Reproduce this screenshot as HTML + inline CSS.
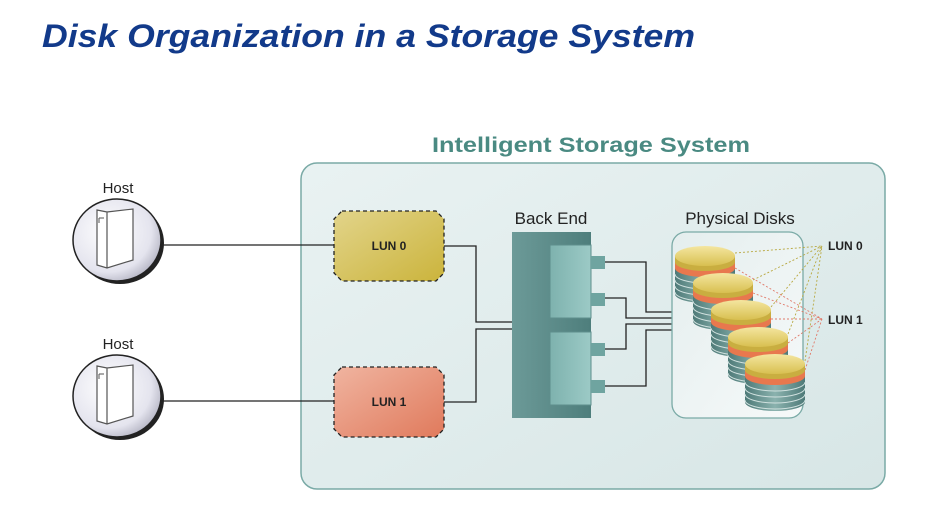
<!DOCTYPE html>
<html><head><meta charset="utf-8"><style>
html,body{margin:0;padding:0;background:#fff;}
svg{display:block;}
text{font-family:"Liberation Sans",Arial,sans-serif;}
</style></head><body>
<svg width="939" height="510" viewBox="0 0 939 510" xmlns="http://www.w3.org/2000/svg">
<defs>
<linearGradient id="bg" x1="0" y1="0" x2="1" y2="1"><stop offset="0" stop-color="#e9f2f2"/><stop offset="1" stop-color="#d7e6e6"/></linearGradient>
<linearGradient id="l0" x1="0" y1="0" x2="1" y2="1"><stop offset="0" stop-color="#e2d48a"/><stop offset="1" stop-color="#cbb43c"/></linearGradient>
<linearGradient id="l1" x1="0" y1="0" x2="1" y2="1"><stop offset="0" stop-color="#f0b4a0"/><stop offset="1" stop-color="#e07a5c"/></linearGradient>
<radialGradient id="host" cx="0.4" cy="0.4" r="0.7"><stop offset="0" stop-color="#ffffff"/><stop offset="0.7" stop-color="#e4e4ee"/><stop offset="1" stop-color="#a8a8b8"/></radialGradient>
<linearGradient id="be" x1="0" y1="0" x2="1" y2="0"><stop offset="0" stop-color="#6c9a98"/><stop offset="1" stop-color="#4e7e7c"/></linearGradient>
<linearGradient id="bei" x1="0" y1="0" x2="1" y2="0"><stop offset="0" stop-color="#7eb2ae"/><stop offset="1" stop-color="#9ccac6"/></linearGradient>
<linearGradient id="pd" x1="0" y1="0" x2="1" y2="1"><stop offset="0" stop-color="#e4eeee"/><stop offset="1" stop-color="#f6f9f9"/></linearGradient>
<linearGradient id="dtop" x1="0" y1="0" x2="0" y2="1"><stop offset="0" stop-color="#f4e6a0"/><stop offset="1" stop-color="#d8bf50"/></linearGradient>
<linearGradient id="dbody" x1="0" y1="0" x2="1" y2="0"><stop offset="0" stop-color="#4e7a78"/><stop offset="0.5" stop-color="#8ab2ae"/><stop offset="1" stop-color="#4e7a78"/></linearGradient>
<g id="disk">
<path d="M-30 0 V38 A30 9 0 0 0 30 38 V0 Z" fill="url(#dbody)"/>
<path d="M-30 18 A30 9 0 0 0 30 18 M-30 24 A30 9 0 0 0 30 24 M-30 30 A30 9 0 0 0 30 30 M-30 36 A30 9 0 0 0 30 36" fill="none" stroke="#cfe0de" stroke-width="1"/>
<path d="M-30 4 V12 A30 9 0 0 0 30 12 V4 Z" fill="#e8784e"/>
<path d="M-30 0 V6 A30 9 0 0 0 30 6 V0 Z" fill="#c9ae40"/>
<ellipse cx="0" cy="0" rx="30" ry="10" fill="url(#dtop)"/>
</g>
<g id="hostg">
<ellipse cx="3" cy="3" rx="44" ry="41" fill="#222"/>
<ellipse cx="0" cy="0" rx="44" ry="41" fill="url(#host)" stroke="#222" stroke-width="1.5"/>
<path d="M-20 -30 L-10 -28 L16 -31 L16 20 L-10 28 L-20 25 Z M-10 -28 L-10 28" fill="#fff" stroke="#555" stroke-width="1.2"/>
<path d="M-18 -22 h5 M-18 -22 v5" stroke="#555" stroke-width="1"/>
</g>
</defs>

<text x="42" y="47" font-size="32" font-weight="bold" font-style="italic" fill="#123a8a" textLength="653" lengthAdjust="spacingAndGlyphs">Disk Organization in a Storage System</text>

<text x="432" y="152" font-size="21" font-weight="bold" fill="#4a8a82" textLength="318" lengthAdjust="spacingAndGlyphs">Intelligent Storage System</text>
<rect x="301" y="163" width="584" height="326" rx="16" fill="url(#bg)" stroke="#7aaaa6" stroke-width="1.5"/>

<text x="118" y="193" font-size="15" fill="#222" text-anchor="middle">Host</text>
<text x="118" y="349" font-size="15" fill="#222" text-anchor="middle">Host</text>
<use href="#hostg" x="117" y="240"/>
<use href="#hostg" x="117" y="396"/>

<g stroke="#222" stroke-width="1.3" fill="none">
<path d="M161 245 H334"/>
<path d="M161 401 H334"/>
<path d="M444 246 H476 V322 H512"/>
<path d="M444 402 H476 V329 H512"/>
<path d="M605 262 H646 V312 H672"/>
<path d="M605 298 H626 V318 H672"/>
<path d="M605 349 H626 V324 H672"/>
<path d="M605 386 H646 V330 H672"/>
</g>

<path d="M342 211 H436 L444 219 V273 L436 281 H342 L334 273 V219 Z" fill="url(#l0)" stroke="#222" stroke-width="1.3" stroke-dasharray="4,3"/>
<text x="389" y="250" font-size="12" font-weight="bold" fill="#222" text-anchor="middle">LUN 0</text>
<path d="M342 367 H436 L444 375 V429 L436 437 H342 L334 429 V375 Z" fill="url(#l1)" stroke="#222" stroke-width="1.3" stroke-dasharray="4,3"/>
<text x="389" y="406" font-size="12" font-weight="bold" fill="#222" text-anchor="middle">LUN 1</text>

<text x="551" y="224" font-size="17" fill="#222" text-anchor="middle">Back End</text>
<rect x="512" y="232" width="79" height="186" fill="url(#be)"/>
<rect x="550" y="245" width="41" height="73" fill="url(#bei)" stroke="#5e8e8c"/>
<rect x="550" y="332" width="41" height="73" fill="url(#bei)" stroke="#5e8e8c"/>
<rect x="591" y="256" width="14" height="13" fill="#6fa4a0"/>
<rect x="591" y="293" width="14" height="13" fill="#6fa4a0"/>
<rect x="591" y="343" width="14" height="13" fill="#6fa4a0"/>
<rect x="591" y="380" width="14" height="13" fill="#6fa4a0"/>

<text x="740" y="224" font-size="17" fill="#222" text-anchor="middle">Physical Disks</text>
<rect x="672" y="232" width="131" height="186" rx="14" fill="url(#pd)" stroke="#7aaaa6" stroke-width="1.3"/>

<g stroke-width="0.9" stroke-dasharray="2,2" fill="none">
<path d="M735 253 L822 246 M753 280 L822 246 M771 307 L822 246 M788 334 L822 246 M805 361 L822 246" stroke="#b8a840"/>
<path d="M735 268 L822 319 M753 293 L822 319 M771 319 L822 319 M788 343 L822 319 M805 370 L822 319" stroke="#e07a6a"/>
</g>

<use href="#disk" x="705" y="256"/>
<use href="#disk" x="723" y="283"/>
<use href="#disk" x="741" y="310"/>
<use href="#disk" x="758" y="337"/>
<use href="#disk" x="775" y="364"/>

<text x="828" y="250" font-size="12" font-weight="bold" fill="#222">LUN 0</text>
<text x="828" y="324" font-size="12" font-weight="bold" fill="#222">LUN 1</text>
</svg>
</body></html>
